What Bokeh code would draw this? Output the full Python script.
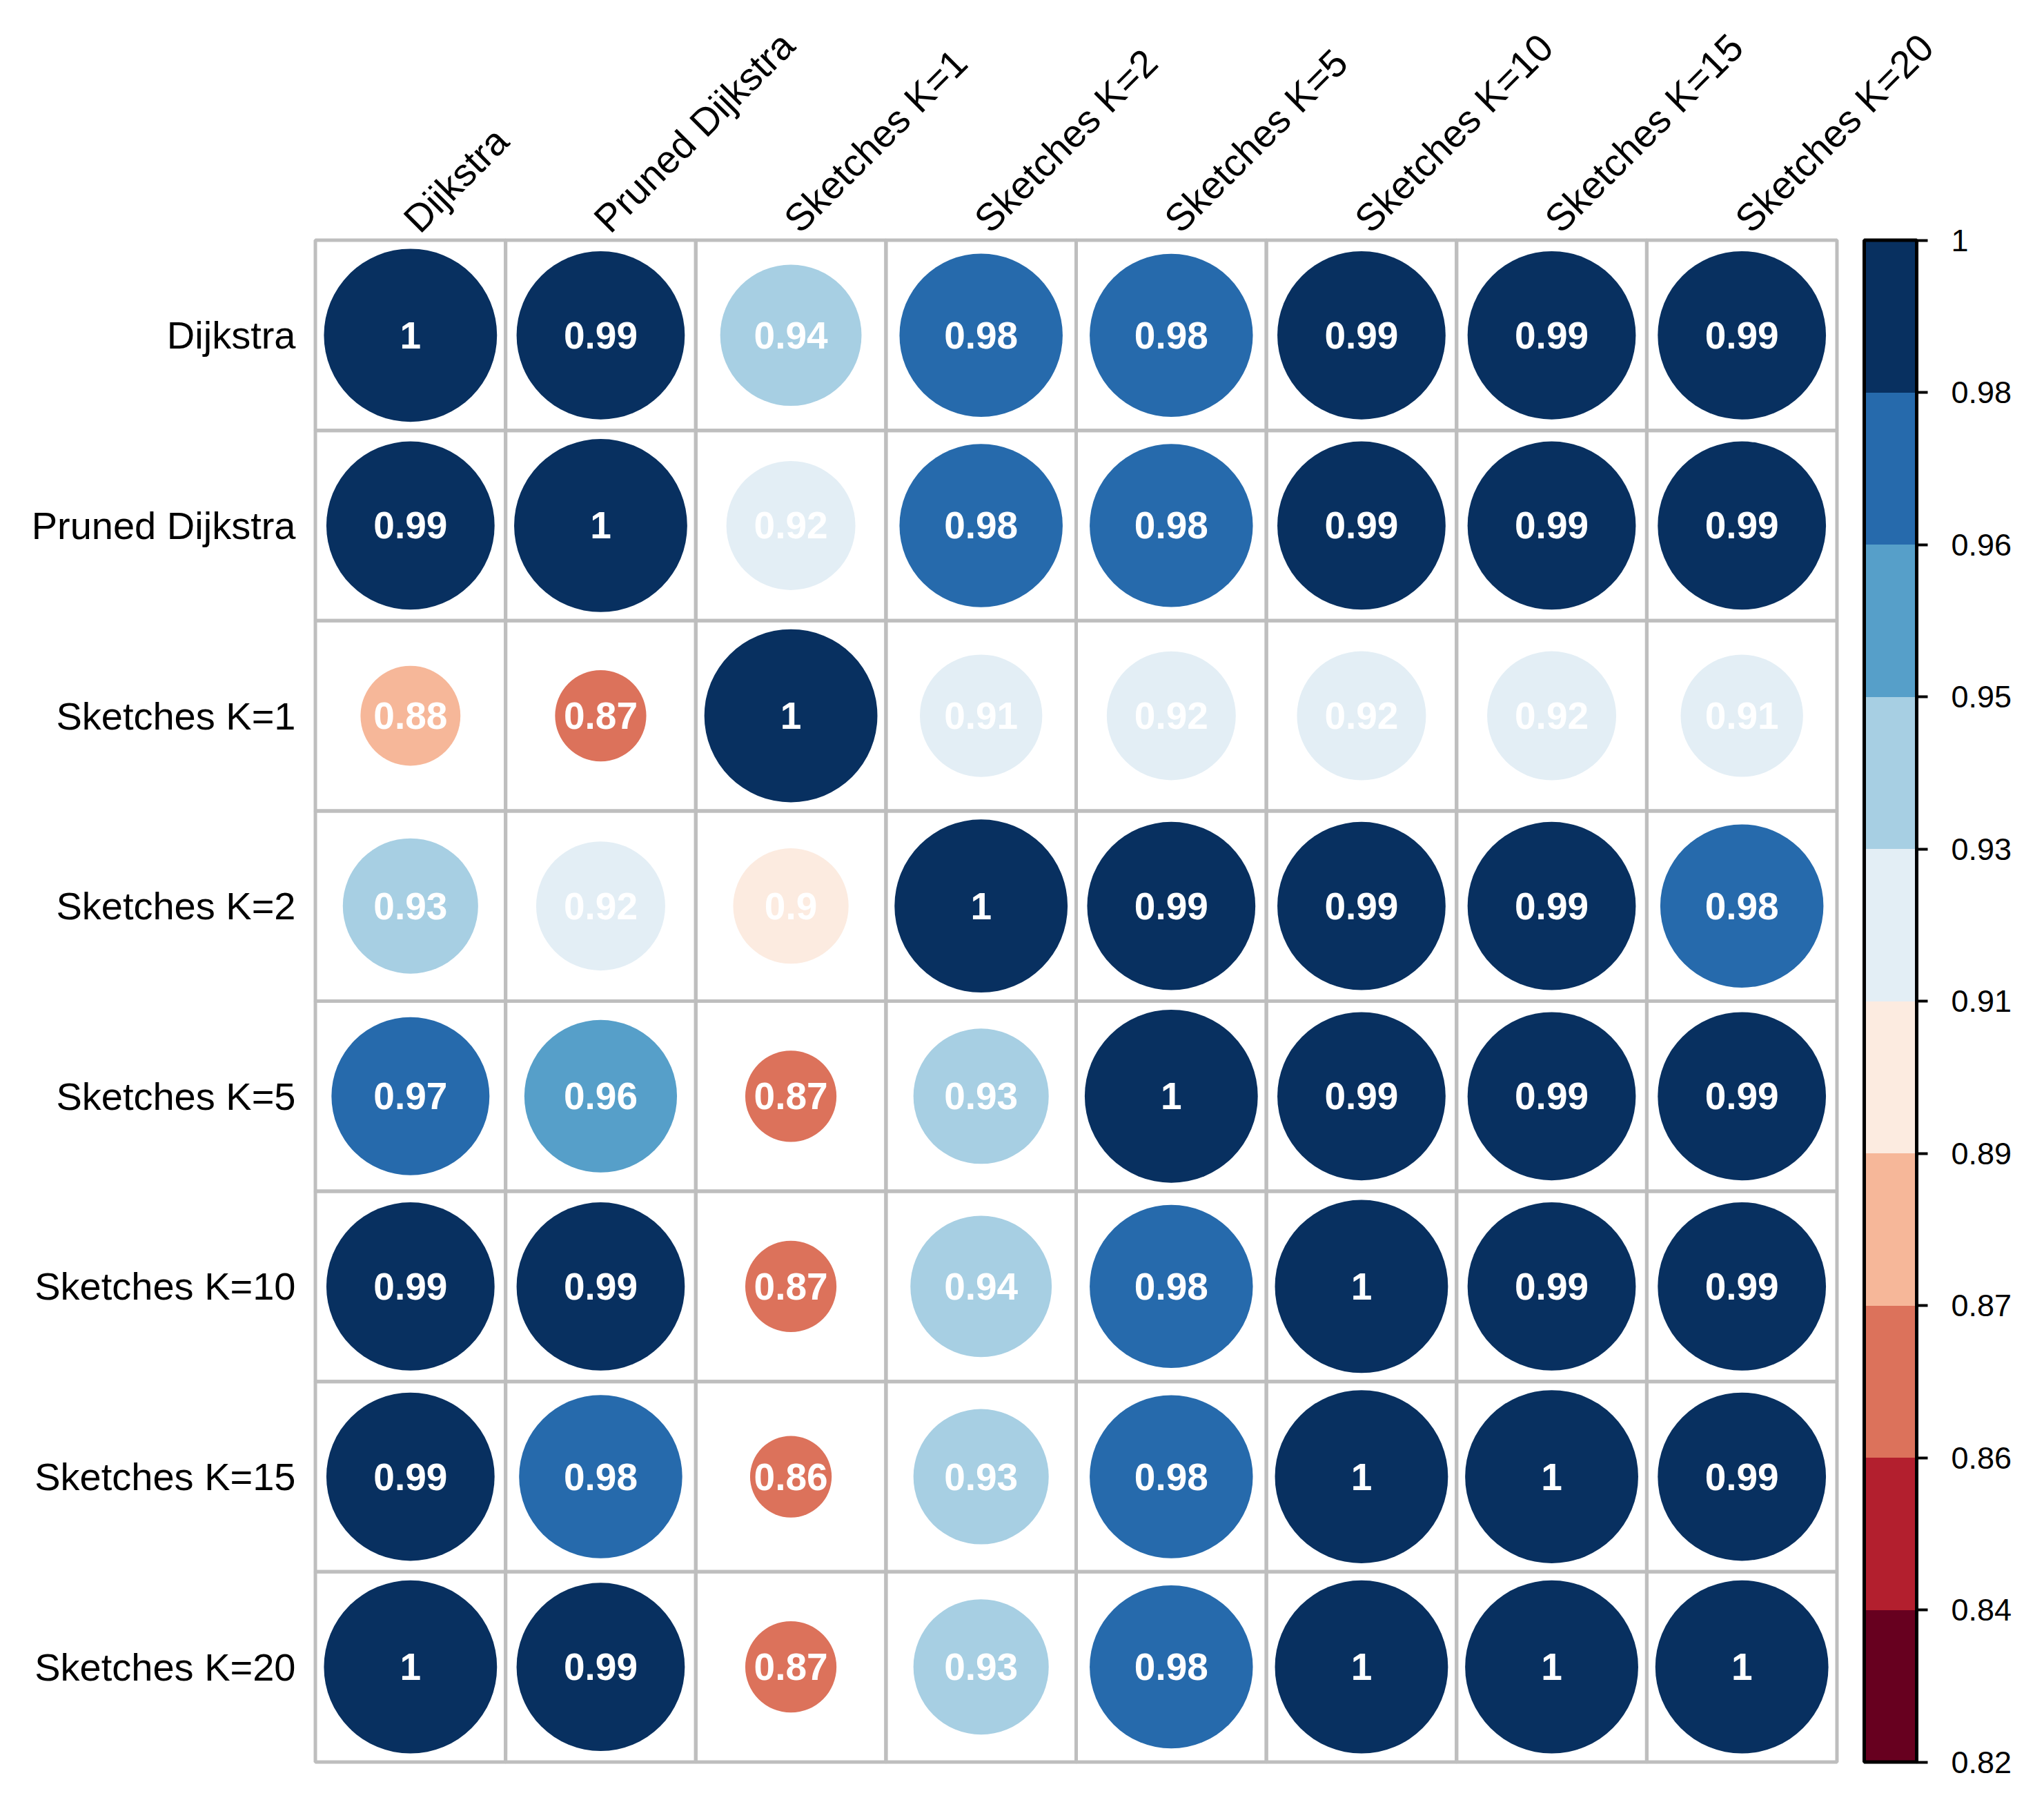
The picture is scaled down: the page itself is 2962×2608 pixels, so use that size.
import math
from bokeh.plotting import figure
from bokeh.models import (ColumnDataSource, FixedTicker, LinearColorMapper, ColorBar, Range1d)
from bokeh.transform import transform
from bokeh.embed import file_html
from bokeh.resources import INLINE

# ---------------- data ----------------
labels = ["Dijkstra", "Pruned Dijkstra", "Sketches K=1", "Sketches K=2",
          "Sketches K=5", "Sketches K=10", "Sketches K=15", "Sketches K=20"]

row_dijkstra = [1, 0.99, 0.94, 0.98, 0.98, 0.99, 0.99, 0.99]
row_pruned = [0.99, 1, 0.92, 0.98, 0.98, 0.99, 0.99, 0.99]
row_k1 = [0.88, 0.87, 1, 0.91, 0.92, 0.92, 0.92, 0.91]
row_k2 = [0.93, 0.92, 0.9, 1, 0.99, 0.99, 0.99, 0.98]
row_k5 = [0.97, 0.96, 0.87, 0.93, 1, 0.99, 0.99, 0.99]
row_k10 = [0.99, 0.99, 0.87, 0.94, 0.98, 1, 0.99, 0.99]
row_k15 = [0.99, 0.98, 0.86, 0.93, 0.98, 1, 1, 0.99]
row_k20 = [1, 0.99, 0.87, 0.93, 0.98, 1, 1, 1]
matrix = [row_dijkstra, row_pruned, row_k1, row_k2, row_k5, row_k10, row_k15, row_k20]

cb_low, cb_high = 0.82, 1.0
cb_ticks = [0.82, 0.838, 0.856, 0.874, 0.892, 0.91, 0.928, 0.946, 0.964, 0.982, 1.0]
cb_tick_labels = ["0.82", "0.84", "0.86", "0.87", "0.89", "0.91", "0.93", "0.95", "0.96", "0.98", "1"]
palette = ["#67001F", "#B31F2E", "#DC725B", "#F6B799", "#FCEBE0",
           "#E3EEF5", "#A7CFE3", "#569FC9", "#266AAC", "#083060"]

# ---------------- build source ----------------
n = len(labels)
xs, ys, vals, rads, txt = [], [], [], [], []
for i, row in enumerate(matrix):
    for j, v in enumerate(row):
        xs.append(j + 0.5)
        ys.append(n - i - 0.5)
        vals.append(v)
        rads.append(0.455 * math.sqrt(max(v - cb_low, 0) / (cb_high - cb_low)))
        txt.append(f"{v:g}")
src = ColumnDataSource(dict(x=xs, y=ys, v=vals, r=rads, t=txt))

cx = [k + 0.5 for k in range(n) for _ in range(n)]
cy = [k + 0.5 for _ in range(n) for k in range(n)]
grid_src = ColumnDataSource(dict(x=cx, y=cy))

PAD = 0.02
FRAME = 2216
p = figure(width=2940, height=2590, output_backend="svg", toolbar_location=None,
           x_range=Range1d(-PAD, n + PAD), y_range=Range1d(-PAD, n + PAD),
           x_axis_location="above", y_axis_location="left",
           frame_width=FRAME, frame_height=FRAME,
           min_border_left=451, min_border_top=342, min_border_right=273, min_border_bottom=32)
p.outline_line_color = None
p.xgrid.visible = False
p.ygrid.visible = False
p.background_fill_color = "white"
p.border_fill_color = "white"

mapper = LinearColorMapper(palette=palette, low=cb_low, high=cb_high)

p.rect(x="x", y="y", width=1, height=1, source=grid_src, fill_color=None,
       line_color="#BEBEBE", line_width=5)
p.circle(x="x", y="y", radius="r", source=src, fill_color=transform("v", mapper),
         line_color=None)
p.text(x="x", y="y", text="t", source=src, text_color="white", text_font_style="bold",
       text_font_size="55px", text_align="center", text_baseline="middle",
       text_font={"value": "Liberation Sans"})

# axes: column labels above, row labels left
xa = p.xaxis[0]
xa.ticker = FixedTicker(ticks=[k + 0.5 for k in range(n)])
xa.major_label_overrides = {k + 0.5: labels[k] for k in range(n)}
xa.major_label_orientation = math.pi / 4
xa.axis_line_color = None
xa.major_tick_line_color = None
xa.minor_tick_line_color = None
xa.major_label_text_font = "Liberation Sans"
xa.major_label_text_font_size = "56px"
xa.major_label_text_color = "black"
xa.major_label_standoff = 10

ya = p.yaxis[0]
ya.ticker = FixedTicker(ticks=[n - i - 0.5 for i in range(n)])
ya.major_label_overrides = {n - i - 0.5: labels[i] for i in range(n)}
ya.axis_line_color = None
ya.major_tick_line_color = None
ya.minor_tick_line_color = None
ya.major_label_text_font = "Liberation Sans"
ya.major_label_text_font_size = "56px"
ya.major_label_text_color = "black"
ya.major_label_standoff = 17

cb = ColorBar(color_mapper=mapper, ticker=FixedTicker(ticks=cb_ticks),
              major_label_overrides={t: l for t, l in zip(cb_ticks, cb_tick_labels)},
              width=76, height=2205, location=(34, 5.5), margin=0, padding=0,
              bar_line_color="black", bar_line_width=5,
              major_tick_line_color="black", major_tick_line_width=4,
              major_tick_in=0, major_tick_out=16, minor_tick_line_color=None,
              major_label_text_font="Liberation Sans", major_label_text_font_size="45px",
              major_label_text_color="black",
              label_standoff=34, border_line_color=None, background_fill_color=None)
p.add_layout(cb, "right")

open("out.html", "w").write(file_html(p, INLINE))
